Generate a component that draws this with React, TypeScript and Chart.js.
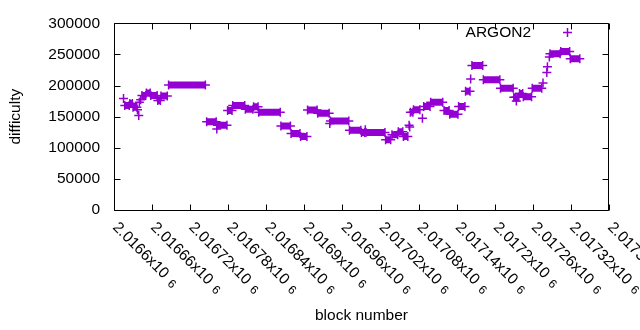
import React, { useEffect, useRef } from "react";
import { Chart, registerables } from "chart.js";

Chart.register(...registerables);

const seriesName = "ARGON2";
const xTitle = "block number";
const yTitle = "difficulty";

const blockNumbers = [
  2016615,
  2016617, 2016624, 2016625, 2016629, 2016630, 2016636,
  2016637, 2016639, 2016640, 2016642,
  2016644, 2016650, 2016651, 2016657, 2016658, 2016668, 2016669, 2016673, 2016674, 2016684,
  2016686, 2016744,
  2016746, 2016761, 2016762, 2016763, 2016778,
  2016779, 2016786, 2016787, 2016806, 2016807, 2016819, 2016820, 2016827,
  2016828, 2016862, 2016863, 2016878, 2016879, 2016893, 2016894, 2016904,
  2016905, 2016920, 2016921, 2016939, 2016940, 2016941, 2016970,
  2016971, 2016989, 2016990, 2016995, 2016996, 2016997, 2017027,
  2017028, 2017036, 2017038, 2017047, 2017048, 2017055, 2017056, 2017063,
  2017065, 2017066, 2017067, 2017071, 2017072, 2017082, 2017086,
  2017088, 2017098, 2017099, 2017118, 2017120, 2017128, 2017129, 2017142,
  2017143, 2017153, 2017154, 2017161, 2017162, 2017164, 2017181,
  2017182, 2017208, 2017209, 2017229, 2017230, 2017233, 2017234, 2017235, 2017238,
  2017239, 2017244, 2017245, 2017258, 2017259, 2017274,
  2017276, 2017282, 2017283, 2017286, 2017287, 2017303, 2017304, 2017318, 2017319, 2017334,
];

const difficulties = [
  179000,
  168000, 168000, 171000, 171000, 165000, 165000,
  161000, 152000, 173000, 177000,
  184000, 184000, 188000, 188000, 184000, 184000, 176000, 176000, 183000, 183000,
  201000, 201000,
  142000, 142000, 130000, 136000, 136000,
  160000, 160000, 168000, 168000, 162000, 162000, 166000, 166000,
  157000, 157000, 135000, 135000, 123000, 123000, 118000, 118000,
  160500, 160500, 155500, 155500, 139000, 143000, 143000,
  128000, 128000, 124500, 124500, 129000, 124500, 124500,
  113000, 113000, 121000, 121000, 125700, 125700, 118000, 118000,
  136000, 133500, 157000, 157000, 161000, 161000, 147600,
  166500, 166500, 173000, 173000, 160000, 160000, 154000, 154000,
  166500, 166500, 191000, 191000, 210500, 232000, 232000,
  209400, 209400, 195500, 195500, 181000, 181000, 175000, 181000, 181000,
  187000, 187000, 182000, 182000, 195500, 195500,
  204000, 221000, 230000, 246000, 251000, 251000, 254500, 254500, 243000, 243000,
];

const xTickValues = [
  2016600, 2016660, 2016720, 2016780, 2016840, 2016900, 2016960,
  2017020, 2017080, 2017140, 2017200, 2017260, 2017320, 2017380,
];
const xTickMantissas = [
  "2.0166", "2.01666", "2.01672", "2.01678", "2.01684", "2.0169", "2.01696",
  "2.01702", "2.01708", "2.01714", "2.0172", "2.01726", "2.01732", "2.01738",
];
const xTickExponent = "6";
const yTickValues = [0, 50000, 100000, 150000, 200000, 250000, 300000];

const PURPLE = "#9400d3";
const FONT = "'Liberation Sans', Arial, sans-serif";

const decor = {
  id: "gnuplotDecor",
  afterDraw(chart: any) {
    const { ctx, chartArea: a, scales } = chart;
    const xs = scales.x;
    const ys = scales.y;
    ctx.save();
    ctx.strokeStyle = "#000";
    ctx.lineWidth = 1;
    const L = Math.round(a.left) + 0.5;
    const R = Math.round(a.right) - 0.5;
    const T = Math.round(a.top) + 0.5;
    const B = Math.round(a.bottom) + 0.5;
    ctx.beginPath();
    ctx.rect(L, T, R - L, B - T);
    for (const v of yTickValues) {
      const py = Math.round(ys.getPixelForValue(v)) + 0.5;
      ctx.moveTo(L, py);
      ctx.lineTo(L + 6, py);
      ctx.moveTo(R, py);
      ctx.lineTo(R - 6, py);
    }
    for (const v of xTickValues) {
      const px = Math.round(xs.getPixelForValue(v)) + 0.5;
      ctx.moveTo(px, B);
      ctx.lineTo(px, B - 6);
      ctx.moveTo(px, T);
      ctx.lineTo(px, T + 6);
    }
    ctx.stroke();

    ctx.fillStyle = "#000";
    xTickValues.forEach((v, i) => {
      const px = xs.getPixelForValue(v);
      ctx.save();
      ctx.translate(px - 2, a.bottom + 18);
      ctx.rotate(Math.PI / 4);
      ctx.font = `15.5px ${FONT}`;
      ctx.textAlign = "left";
      ctx.textBaseline = "alphabetic";
      const main = xTickMantissas[i] + "x10";
      ctx.fillText(main, 0, 0);
      const w = ctx.measureText(main).width;
      ctx.font = `12px ${FONT}`;
      ctx.fillText(xTickExponent, w + 6, 1);
      ctx.restore();
    });

    ctx.font = `15.5px ${FONT}`;
    ctx.textAlign = "center";
    ctx.textBaseline = "middle";
    ctx.fillText(xTitle, (a.left + a.right) / 2, 316);
    ctx.save();
    ctx.translate(16, (a.top + a.bottom) / 2);
    ctx.rotate(-Math.PI / 2);
    ctx.fillText(yTitle, 0, 0);
    ctx.restore();

    ctx.textAlign = "right";
    ctx.fillText(seriesName, 531, 32.5);
    ctx.strokeStyle = PURPLE;
    ctx.lineWidth = 1.5;
    ctx.beginPath();
    ctx.moveTo(563, 32.5);
    ctx.lineTo(572, 32.5);
    ctx.moveTo(567.5, 28);
    ctx.lineTo(567.5, 37);
    ctx.stroke();
    ctx.restore();
  },
};

export default function App() {
  const ref = useRef<HTMLCanvasElement | null>(null);
  useEffect(() => {
    if (!ref.current) return;
    const points = blockNumbers.map((b, i) => ({ x: b, y: difficulties[i] }));
    const chart = new Chart(ref.current, {
      type: "line",
      data: {
        datasets: [
          {
            label: seriesName,
            data: points,
            showLine: true,
            borderColor: PURPLE,
            borderWidth: 7,
            borderCapStyle: "butt",
            tension: 0,
            segment: {
              borderColor: (c: any) =>
                difficulties[c.p0DataIndex] === difficulties[c.p1DataIndex]
                  ? PURPLE
                  : "rgba(0,0,0,0)",
            },
            pointStyle: "cross",
            pointRadius: 4.5,
            pointBorderWidth: 1.5,
            pointBorderColor: PURPLE,
            pointBackgroundColor: PURPLE,
          },
        ],
      },
      options: {
        responsive: false,
        animation: false,
        devicePixelRatio: 1,
        layout: { padding: { top: 19, right: 31, left: 0, bottom: 0 } },
        plugins: { legend: { display: false }, tooltip: { enabled: false } },
        scales: {
          x: {
            type: "linear",
            min: 2016600,
            max: 2017380,
            ticks: { display: false },
            grid: { display: false, drawTicks: false },
            border: { display: false },
            afterFit: (s: any) => {
              s.height = 120;
            },
          },
          y: {
            type: "linear",
            min: 0,
            max: 300000,
            ticks: {
              stepSize: 50000,
              padding: 14,
              color: "#000",
              font: { family: FONT, size: 15.5 },
              callback: (v: any) => String(v),
            },
            grid: { display: false, drawTicks: false },
            border: { display: false },
            afterFit: (s: any) => {
              s.width = 114;
            },
          },
        },
      },
      plugins: [decor],
    } as any);
    return () => chart.destroy();
  }, []);
  return (
    <div style={{ position: "absolute", left: 0, top: 0, width: 640, height: 330, background: "#fff" }}>
      <canvas ref={ref} width={640} height={330} style={{ display: "block" }} />
    </div>
  );
}
